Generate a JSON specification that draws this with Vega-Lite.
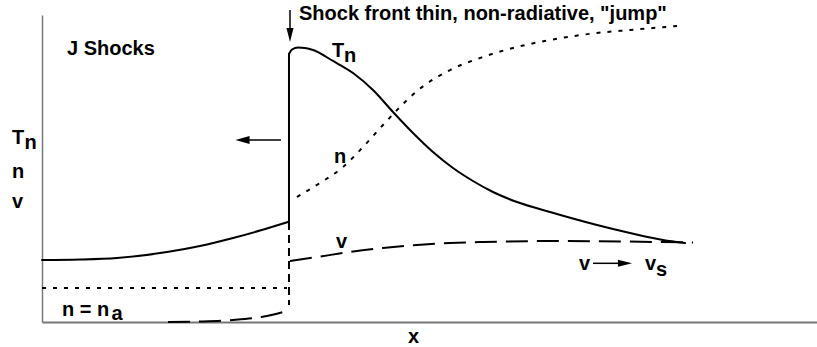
{
  "$schema": "https://vega.github.io/schema/vega-lite/v6.json",
  "width": 775,
  "height": 307,
  "autosize": {"type": "none"},
  "padding": {"left": 42, "top": 15, "right": 0, "bottom": 25},
  "background": "white",
  "config": {
    "view": {"stroke": null},
    "text": {"font": "Liberation Sans", "fontWeight": "bold", "fontSize": 20, "color": "#000"}
  },
  "datasets": {
    "curves": [
      {"curve": "Tn", "seg": "pre", "i": 0, "x": 0, "y": 20.2},
      {"curve": "Tn", "seg": "pre", "i": 1, "x": 4.9, "y": 20.36},
      {"curve": "Tn", "seg": "pre", "i": 2, "x": 9.68, "y": 20.85},
      {"curve": "Tn", "seg": "pre", "i": 3, "x": 16.13, "y": 22.8},
      {"curve": "Tn", "seg": "pre", "i": 4, "x": 20.39, "y": 24.76},
      {"curve": "Tn", "seg": "pre", "i": 5, "x": 24.65, "y": 27.36},
      {"curve": "Tn", "seg": "pre", "i": 6, "x": 28.13, "y": 29.8},
      {"curve": "Tn", "seg": "pre", "i": 7, "x": 31.74, "y": 32.57},
      {"curve": "Tn", "seg": "jump", "i": 0, "x": 31.87, "y": 32.57},
      {"curve": "Tn", "seg": "jump", "i": 1, "x": 31.87, "y": 87.3},
      {"curve": "Tn", "seg": "post", "i": 0, "x": 31.87, "y": 87.3},
      {"curve": "Tn", "seg": "post", "i": 1, "x": 32.26, "y": 88.76},
      {"curve": "Tn", "seg": "post", "i": 2, "x": 33.03, "y": 89.41},
      {"curve": "Tn", "seg": "post", "i": 3, "x": 33.94, "y": 89.25},
      {"curve": "Tn", "seg": "post", "i": 4, "x": 34.97, "y": 88.6},
      {"curve": "Tn", "seg": "post", "i": 5, "x": 37.55, "y": 85.02},
      {"curve": "Tn", "seg": "post", "i": 6, "x": 40.13, "y": 81.11},
      {"curve": "Tn", "seg": "post", "i": 7, "x": 42.71, "y": 75.57},
      {"curve": "Tn", "seg": "post", "i": 8, "x": 45.29, "y": 68.4},
      {"curve": "Tn", "seg": "post", "i": 9, "x": 47.87, "y": 61.56},
      {"curve": "Tn", "seg": "post", "i": 10, "x": 50.45, "y": 55.37},
      {"curve": "Tn", "seg": "post", "i": 11, "x": 53.03, "y": 50.16},
      {"curve": "Tn", "seg": "post", "i": 12, "x": 55.61, "y": 45.93},
      {"curve": "Tn", "seg": "post", "i": 13, "x": 58.19, "y": 42.35},
      {"curve": "Tn", "seg": "post", "i": 14, "x": 61.29, "y": 39.09},
      {"curve": "Tn", "seg": "post", "i": 15, "x": 65.55, "y": 35.83},
      {"curve": "Tn", "seg": "post", "i": 16, "x": 71.61, "y": 31.6},
      {"curve": "Tn", "seg": "post", "i": 17, "x": 75.87, "y": 28.99},
      {"curve": "Tn", "seg": "post", "i": 18, "x": 80.13, "y": 26.71},
      {"curve": "Tn", "seg": "post", "i": 19, "x": 82.97, "y": 25.73},

      {"curve": "n", "seg": "pre", "i": 0, "x": 0, "y": 11.07},
      {"curve": "n", "seg": "pre", "i": 1, "x": 31.61, "y": 11.07},
      {"curve": "n", "seg": "post", "i": 0, "x": 32.9, "y": 40.72},
      {"curve": "n", "seg": "post", "i": 1, "x": 35.87, "y": 45.28},
      {"curve": "n", "seg": "post", "i": 2, "x": 38.84, "y": 50.49},
      {"curve": "n", "seg": "post", "i": 3, "x": 41.42, "y": 57.0},
      {"curve": "n", "seg": "post", "i": 4, "x": 44.0, "y": 64.17},
      {"curve": "n", "seg": "post", "i": 5, "x": 46.19, "y": 70.03},
      {"curve": "n", "seg": "post", "i": 6, "x": 48.39, "y": 75.24},
      {"curve": "n", "seg": "post", "i": 7, "x": 52.65, "y": 82.08},
      {"curve": "n", "seg": "post", "i": 8, "x": 56.9, "y": 86.32},
      {"curve": "n", "seg": "post", "i": 9, "x": 61.29, "y": 89.58},
      {"curve": "n", "seg": "post", "i": 10, "x": 65.55, "y": 91.86},
      {"curve": "n", "seg": "post", "i": 11, "x": 71.61, "y": 94.14},
      {"curve": "n", "seg": "post", "i": 12, "x": 75.87, "y": 95.11},
      {"curve": "n", "seg": "post", "i": 13, "x": 81.94, "y": 96.42},

      {"curve": "v", "seg": "pre", "i": 0, "x": 16.26, "y": 0},
      {"curve": "v", "seg": "pre", "i": 1, "x": 20.39, "y": 0.16},
      {"curve": "v", "seg": "pre", "i": 2, "x": 24.65, "y": 0.65},
      {"curve": "v", "seg": "pre", "i": 3, "x": 29.03, "y": 1.95},
      {"curve": "v", "seg": "pre", "i": 4, "x": 31.61, "y": 3.58},
      {"curve": "v", "seg": "post", "i": 0, "x": 32.0, "y": 19.87},
      {"curve": "v", "seg": "post", "i": 1, "x": 35.48, "y": 21.17},
      {"curve": "v", "seg": "post", "i": 2, "x": 39.74, "y": 22.8},
      {"curve": "v", "seg": "post", "i": 3, "x": 44.0, "y": 24.1},
      {"curve": "v", "seg": "post", "i": 4, "x": 48.39, "y": 25.08},
      {"curve": "v", "seg": "post", "i": 5, "x": 52.65, "y": 25.73},
      {"curve": "v", "seg": "post", "i": 6, "x": 56.9, "y": 26.06},
      {"curve": "v", "seg": "post", "i": 7, "x": 65.55, "y": 26.38},
      {"curve": "v", "seg": "post", "i": 8, "x": 74.58, "y": 26.22},
      {"curve": "v", "seg": "post", "i": 9, "x": 84.0, "y": 25.9},

      {"curve": "front", "seg": "front", "i": 0, "x": 31.87, "y": 32.57},
      {"curve": "front", "seg": "front", "i": 1, "x": 31.87, "y": 5.54}
    ],
    "arrows": [
      {"dir": "down", "x": 32.0, "y": 101.63, "x2": 32.0, "y2": 95.11, "hx": 32.0, "hy": 93.49},
      {"dir": "left", "x": 26.71, "y": 59.28, "x2": 30.84, "y2": 59.28, "hx": 25.87, "hy": 59.28},
      {"dir": "right", "x": 71.1, "y": 19.12, "x2": 74.97, "y2": 19.12, "hx": 75.23, "hy": 19.12}
    ],
    "labels": [
      {"label": "Shock front thin, non-radiative, \"jump\"", "x": 33.16, "y": 98.37},
      {"label": "J Shocks", "x": 3.23, "y": 86.97},
      {"label": "T", "x": -3.87, "y": 57.98},
      {"label": "n", "x": -2.26, "y": 56.35},
      {"label": "n", "x": -3.87, "y": 46.91},
      {"label": "v", "x": -3.87, "y": 37.13},
      {"label": "T", "x": 37.42, "y": 86.32},
      {"label": "n", "x": 38.97, "y": 84.69},
      {"label": "n", "x": 37.68, "y": 51.79},
      {"label": "v", "x": 37.94, "y": 24.1},
      {"label": "n = n", "x": 2.58, "y": 1.95},
      {"label": "a", "x": 8.97, "y": 0.65},
      {"label": "v", "x": 69.29, "y": 16.94},
      {"label": "v", "x": 77.81, "y": 16.94},
      {"label": "s", "x": 79.23, "y": 14.98},
      {"label": "x", "x": 47.23, "y": -6.84}
    ]
  },
  "layer": [
    {
      "data": {"name": "curves"},
      "transform": [{"filter": "datum.curve === 'Tn'"}],
      "mark": {"type": "line", "interpolate": "monotone", "color": "#000", "strokeWidth": 2, "clip": false, "strokeCap": "round"},
      "encoding": {
        "x": {"field": "x", "type": "quantitative", "scale": {"domain": [0, 100], "nice": false, "zero": false},
              "axis": {"labels": false, "ticks": false, "title": null, "grid": false, "domainColor": "#777", "domainWidth": 2}},
        "y": {"field": "y", "type": "quantitative", "scale": {"domain": [0, 100], "nice": false, "zero": false},
              "axis": {"labels": false, "ticks": false, "title": null, "grid": false, "domainColor": "#777", "domainWidth": 1.5}},
        "detail": {"field": "seg"},
        "order": {"field": "i", "type": "quantitative"}
      }
    },
    {
      "data": {"name": "curves"},
      "transform": [{"filter": "datum.curve === 'n'"}],
      "mark": {"type": "line", "interpolate": "monotone", "color": "#000", "strokeWidth": 2, "strokeDash": [4, 7], "clip": false},
      "encoding": {
        "x": {"field": "x", "type": "quantitative"},
        "y": {"field": "y", "type": "quantitative"},
        "detail": {"field": "seg"},
        "order": {"field": "i", "type": "quantitative"}
      }
    },
    {
      "data": {"name": "curves"},
      "transform": [{"filter": "datum.curve === 'v'"}],
      "mark": {"type": "line", "interpolate": "monotone", "color": "#000", "strokeWidth": 2, "strokeDash": [22, 9], "clip": false},
      "encoding": {
        "x": {"field": "x", "type": "quantitative"},
        "y": {"field": "y", "type": "quantitative"},
        "detail": {"field": "seg"},
        "order": {"field": "i", "type": "quantitative"}
      }
    },
    {
      "data": {"name": "curves"},
      "transform": [{"filter": "datum.curve === 'front'"}],
      "mark": {"type": "line", "color": "#000", "strokeWidth": 2, "strokeDash": [8, 5], "clip": false},
      "encoding": {
        "x": {"field": "x", "type": "quantitative"},
        "y": {"field": "y", "type": "quantitative"},
        "order": {"field": "i", "type": "quantitative"}
      }
    },
    {
      "data": {"name": "arrows"},
      "mark": {"type": "rule", "color": "#000", "strokeWidth": 1.5, "clip": false},
      "encoding": {
        "x": {"field": "x", "type": "quantitative"},
        "y": {"field": "y", "type": "quantitative"},
        "x2": {"field": "x2"},
        "y2": {"field": "y2"}
      }
    },
    {
      "data": {"name": "arrows"},
      "mark": {"type": "point", "filled": true, "color": "#000", "opacity": 1, "size": 200, "clip": false},
      "encoding": {
        "x": {"field": "hx", "type": "quantitative"},
        "y": {"field": "hy", "type": "quantitative"},
        "shape": {"field": "dir", "type": "nominal", "legend": null,
                  "scale": {"domain": ["down", "left", "right"],
                            "range": ["M -0.5 -1 L 0.5 -1 L 0 1 Z", "M 1 -0.55 L 1 0.55 L -1 0 Z", "M -1 -0.5 L -1 0.5 L 1 0 Z"]}}
      }
    },
    {
      "data": {"name": "labels"},
      "mark": {"type": "text", "align": "left", "baseline": "alphabetic", "clip": false},
      "encoding": {
        "x": {"field": "x", "type": "quantitative"},
        "y": {"field": "y", "type": "quantitative"},
        "text": {"field": "label"}
      }
    }
  ]
}
